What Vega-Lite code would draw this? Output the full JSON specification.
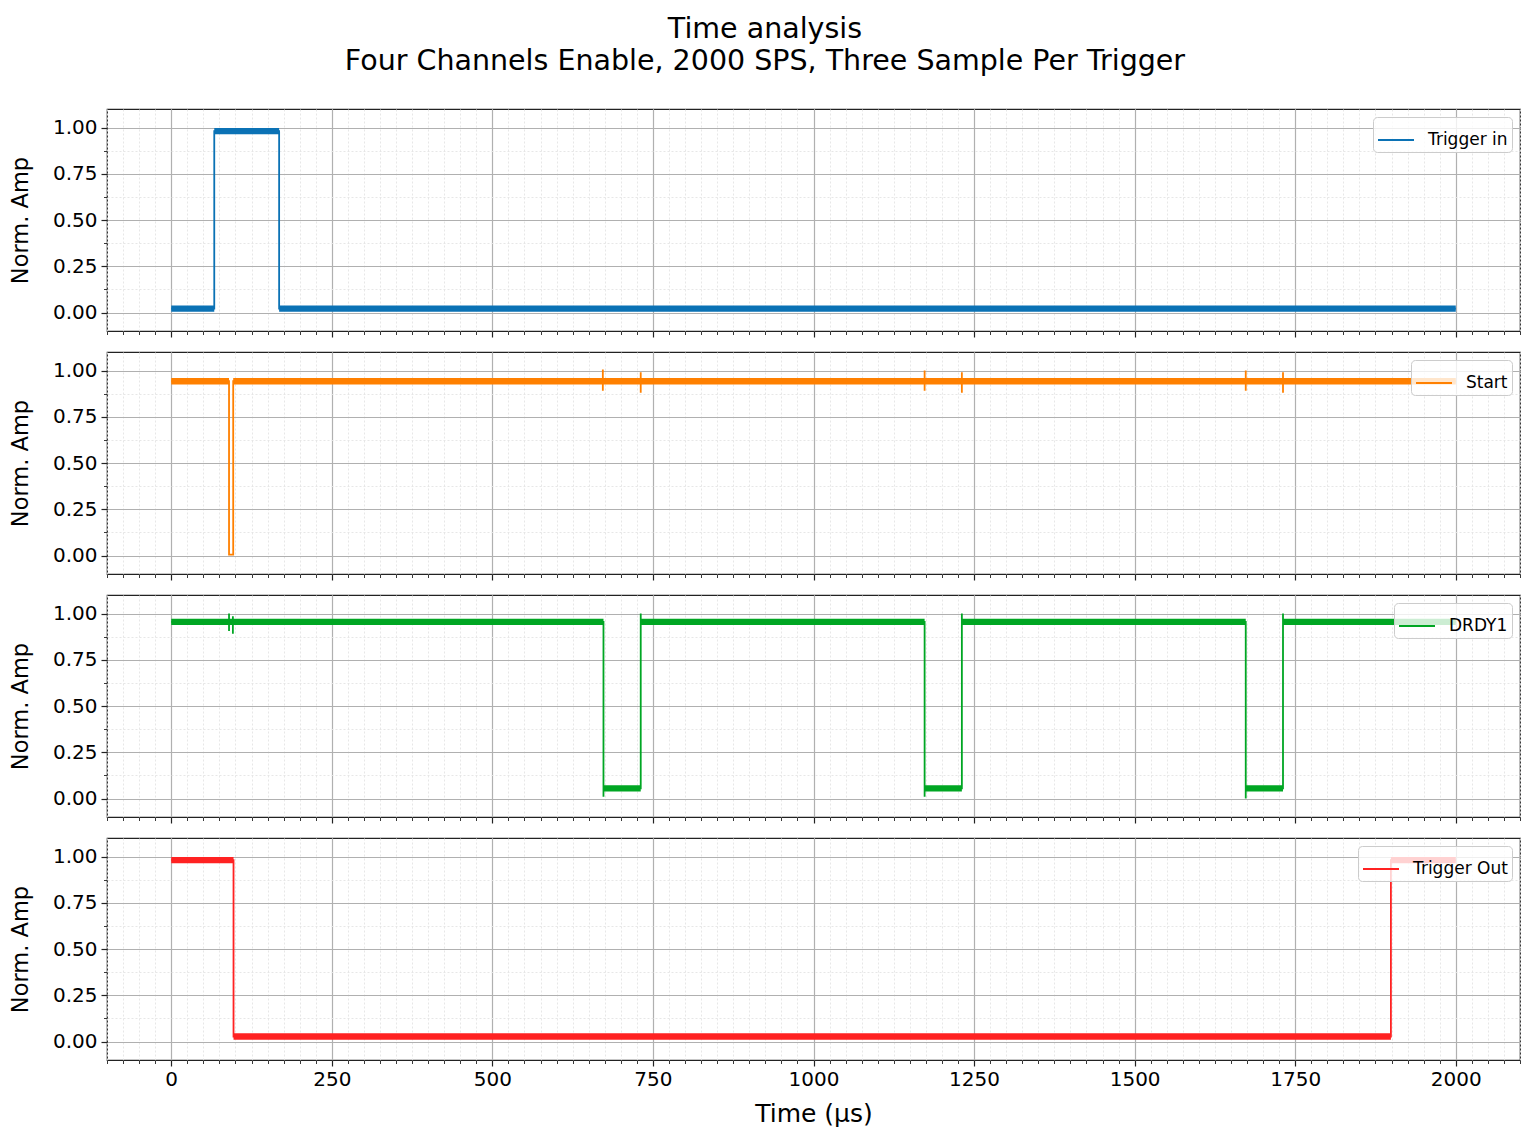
{
  "$schema": "https://vega.github.io/schema/vega-lite/v6.json",
  "background": "white",
  "padding": {"left": 8, "top": 14, "right": 14, "bottom": 8},
  "title": {
    "text": ["Time analysis", "Four Channels Enable, 2000 SPS, Three Sample Per Trigger"],
    "font": "DejaVu Sans",
    "fontSize": 28.5,
    "fontWeight": "normal",
    "color": "black",
    "anchor": "middle",
    "lineHeight": 32,
    "offset": 33
  },
  "datasets": {
    "sig": [
      {"ch": "Trigger in", "i": 0, "t": 0, "v": 0.021},
      {"ch": "Trigger in", "i": 1, "t": 67, "v": 0.021},
      {"ch": "Trigger in", "i": 2, "t": 67, "v": 0.98},
      {"ch": "Trigger in", "i": 3, "t": 168, "v": 0.98},
      {"ch": "Trigger in", "i": 4, "t": 168, "v": 0.021},
      {"ch": "Trigger in", "i": 5, "t": 2000, "v": 0.021},

      {"ch": "Start", "i": 0, "t": 0, "v": 0.942},
      {"ch": "Start", "i": 1, "t": 90, "v": 0.942},
      {"ch": "Start", "i": 2, "t": 90, "v": 0.005},
      {"ch": "Start", "i": 3, "t": 96.5, "v": 0.005},
      {"ch": "Start", "i": 4, "t": 96.5, "v": 0.942},
      {"ch": "Start", "i": 5, "t": 672, "v": 0.942},
      {"ch": "Start", "i": 6, "t": 672, "v": 1.005},
      {"ch": "Start", "i": 7, "t": 672, "v": 0.89},
      {"ch": "Start", "i": 8, "t": 672, "v": 0.942},
      {"ch": "Start", "i": 9, "t": 731, "v": 0.942},
      {"ch": "Start", "i": 10, "t": 731, "v": 0.99},
      {"ch": "Start", "i": 11, "t": 731, "v": 0.88},
      {"ch": "Start", "i": 12, "t": 731, "v": 0.942},
      {"ch": "Start", "i": 13, "t": 1173, "v": 0.942},
      {"ch": "Start", "i": 14, "t": 1173, "v": 1.0},
      {"ch": "Start", "i": 15, "t": 1173, "v": 0.89},
      {"ch": "Start", "i": 16, "t": 1173, "v": 0.942},
      {"ch": "Start", "i": 17, "t": 1231, "v": 0.942},
      {"ch": "Start", "i": 18, "t": 1231, "v": 0.99},
      {"ch": "Start", "i": 19, "t": 1231, "v": 0.88},
      {"ch": "Start", "i": 20, "t": 1231, "v": 0.942},
      {"ch": "Start", "i": 21, "t": 1673, "v": 0.942},
      {"ch": "Start", "i": 22, "t": 1673, "v": 1.0},
      {"ch": "Start", "i": 23, "t": 1673, "v": 0.89},
      {"ch": "Start", "i": 24, "t": 1673, "v": 0.942},
      {"ch": "Start", "i": 25, "t": 1731, "v": 0.942},
      {"ch": "Start", "i": 26, "t": 1731, "v": 0.99},
      {"ch": "Start", "i": 27, "t": 1731, "v": 0.88},
      {"ch": "Start", "i": 28, "t": 1731, "v": 0.942},
      {"ch": "Start", "i": 29, "t": 2000, "v": 0.942},

      {"ch": "DRDY1", "i": 0, "t": 0, "v": 0.955},
      {"ch": "DRDY1", "i": 1, "t": 90, "v": 0.955},
      {"ch": "DRDY1", "i": 2, "t": 90, "v": 1.0},
      {"ch": "DRDY1", "i": 3, "t": 90, "v": 0.905},
      {"ch": "DRDY1", "i": 4, "t": 90, "v": 0.955},
      {"ch": "DRDY1", "i": 5, "t": 96, "v": 0.955},
      {"ch": "DRDY1", "i": 6, "t": 96, "v": 0.985},
      {"ch": "DRDY1", "i": 7, "t": 96, "v": 0.89},
      {"ch": "DRDY1", "i": 8, "t": 96, "v": 0.955},
      {"ch": "DRDY1", "i": 9, "t": 673, "v": 0.955},
      {"ch": "DRDY1", "i": 10, "t": 673, "v": 0.01},
      {"ch": "DRDY1", "i": 11, "t": 673, "v": 0.055},
      {"ch": "DRDY1", "i": 12, "t": 731, "v": 0.055},
      {"ch": "DRDY1", "i": 13, "t": 731, "v": 1.0},
      {"ch": "DRDY1", "i": 14, "t": 731, "v": 0.955},
      {"ch": "DRDY1", "i": 15, "t": 1173, "v": 0.955},
      {"ch": "DRDY1", "i": 16, "t": 1173, "v": 0.01},
      {"ch": "DRDY1", "i": 17, "t": 1173, "v": 0.055},
      {"ch": "DRDY1", "i": 18, "t": 1231, "v": 0.055},
      {"ch": "DRDY1", "i": 19, "t": 1231, "v": 1.0},
      {"ch": "DRDY1", "i": 20, "t": 1231, "v": 0.955},
      {"ch": "DRDY1", "i": 21, "t": 1673, "v": 0.955},
      {"ch": "DRDY1", "i": 22, "t": 1673, "v": 0.0},
      {"ch": "DRDY1", "i": 23, "t": 1673, "v": 0.055},
      {"ch": "DRDY1", "i": 24, "t": 1731, "v": 0.055},
      {"ch": "DRDY1", "i": 25, "t": 1731, "v": 1.0},
      {"ch": "DRDY1", "i": 26, "t": 1731, "v": 0.955},
      {"ch": "DRDY1", "i": 27, "t": 2000, "v": 0.955},

      {"ch": "Trigger Out", "i": 0, "t": 0, "v": 0.98},
      {"ch": "Trigger Out", "i": 1, "t": 97, "v": 0.98},
      {"ch": "Trigger Out", "i": 2, "t": 97, "v": 0.027},
      {"ch": "Trigger Out", "i": 3, "t": 1899, "v": 0.027},
      {"ch": "Trigger Out", "i": 4, "t": 1899, "v": 0.98},
      {"ch": "Trigger Out", "i": 5, "t": 2000, "v": 0.98}
    ],
    "band": [
      {"ch": "Trigger in", "t0": 0, "t1": 67, "lo": 0.004, "hi": 0.038},
      {"ch": "Trigger in", "t0": 67, "t1": 168, "lo": 0.963, "hi": 0.997},
      {"ch": "Trigger in", "t0": 168, "t1": 2000, "lo": 0.004, "hi": 0.038},

      {"ch": "Start", "t0": 0, "t1": 90, "lo": 0.925, "hi": 0.959},
      {"ch": "Start", "t0": 96.5, "t1": 2000, "lo": 0.925, "hi": 0.959},

      {"ch": "DRDY1", "t0": 0, "t1": 673, "lo": 0.938, "hi": 0.972},
      {"ch": "DRDY1", "t0": 673, "t1": 731, "lo": 0.038, "hi": 0.072},
      {"ch": "DRDY1", "t0": 731, "t1": 1173, "lo": 0.938, "hi": 0.972},
      {"ch": "DRDY1", "t0": 1173, "t1": 1231, "lo": 0.038, "hi": 0.072},
      {"ch": "DRDY1", "t0": 1231, "t1": 1673, "lo": 0.938, "hi": 0.972},
      {"ch": "DRDY1", "t0": 1673, "t1": 1731, "lo": 0.038, "hi": 0.072},
      {"ch": "DRDY1", "t0": 1731, "t1": 2000, "lo": 0.938, "hi": 0.972},

      {"ch": "Trigger Out", "t0": 0, "t1": 97, "lo": 0.963, "hi": 0.997},
      {"ch": "Trigger Out", "t0": 97, "t1": 1899, "lo": 0.01, "hi": 0.044},
      {"ch": "Trigger Out", "t0": 1899, "t1": 2000, "lo": 0.963, "hi": 0.997}
    ]
  },
  "spacing": 21,
  "bounds": "flush",
  "resolve": {"scale": {"color": "independent"}},
  "vconcat": [
    {
      "width": 1413,
      "height": 222,
      "resolve": {"axis": {"x": "independent", "y": "independent"}},
      "layer": [
        {
          "data": {"name": "band"},
          "transform": [{"filter": "datum.ch === 'Trigger in'"}],
          "mark": {"type": "rect", "color": "#0b72b5"},
          "encoding": {
            "x": {"field": "t0", "type": "quantitative", "scale": {"domain": [-100, 2100], "nice": false, "zero": false},
              "axis": {"orient": "bottom", "grid": true, "title": null, "labels": false, "domain": false, "tickSize": 3.5, "tickWidth": 0.9, "gridColor": "#e4e4e4", "gridDash": [2, 2], "gridWidth": 0.9,
                "values": [-100,-75,-50,-25,0,25,50,75,100,125,150,175,200,225,250,275,300,325,350,375,400,425,450,475,500,525,550,575,600,625,650,675,700,725,750,775,800,825,850,875,900,925,950,975,1000,1025,1050,1075,1100,1125,1150,1175,1200,1225,1250,1275,1300,1325,1350,1375,1400,1425,1450,1475,1500,1525,1550,1575,1600,1625,1650,1675,1700,1725,1750,1775,1800,1825,1850,1875,1900,1925,1950,1975,2000,2025,2050,2075,2100]}},
            "x2": {"field": "t1"},
            "y": {"field": "lo", "type": "quantitative", "scale": {"domain": [-0.1, 1.1], "nice": false, "zero": false},
              "axis": {"orient": "left", "grid": true, "title": null, "labels": false, "domain": false, "tickSize": 3.5, "tickWidth": 0.9, "gridColor": "#e4e4e4", "gridDash": [2, 2], "gridWidth": 0.9,
                "values": [0, 0.125, 0.25, 0.375, 0.5, 0.625, 0.75, 0.875, 1]}},
            "y2": {"field": "hi"}
          }
        },
        {
          "data": {"name": "sig"},
          "transform": [{"filter": "datum.ch === 'Trigger in'"}],
          "mark": {"type": "line", "strokeWidth": 1.8},
          "encoding": {
            "x": {"field": "t", "type": "quantitative", "scale": {"domain": [-100, 2100], "nice": false, "zero": false},
              "axis": {"orient": "bottom", "grid": true, "title": null, "labels": false, "domain": false, "tickSize": 6, "tickWidth": 1.2, "gridColor": "#b0b0b0", "gridWidth": 1.2,
                "values": [0, 250, 500, 750, 1000, 1250, 1500, 1750, 2000]}},
            "y": {"field": "v", "type": "quantitative", "scale": {"domain": [-0.1, 1.1], "nice": false, "zero": false},
              "axis": {"orient": "left", "grid": true, "title": "Norm. Amp", "format": ".2f", "domain": false, "tickSize": 6, "tickWidth": 1.2, "gridColor": "#b0b0b0", "gridWidth": 1.2,
                "values": [0, 0.25, 0.5, 0.75, 1]}},
            "order": {"field": "i", "type": "quantitative"},
            "color": {"field": "ch", "type": "nominal", "scale": {"range": ["#0b72b5"]}, "legend": {"title": null}}
          }
        }
      ]
    },
    {
      "width": 1413,
      "height": 222,
      "resolve": {"axis": {"x": "independent", "y": "independent"}},
      "layer": [
        {
          "data": {"name": "band"},
          "transform": [{"filter": "datum.ch === 'Start'"}],
          "mark": {"type": "rect", "color": "#ff8000"},
          "encoding": {
            "x": {"field": "t0", "type": "quantitative", "scale": {"domain": [-100, 2100], "nice": false, "zero": false},
              "axis": {"orient": "bottom", "grid": true, "title": null, "labels": false, "domain": false, "tickSize": 3.5, "tickWidth": 0.9, "gridColor": "#e4e4e4", "gridDash": [2, 2], "gridWidth": 0.9,
                "values": [-100,-75,-50,-25,0,25,50,75,100,125,150,175,200,225,250,275,300,325,350,375,400,425,450,475,500,525,550,575,600,625,650,675,700,725,750,775,800,825,850,875,900,925,950,975,1000,1025,1050,1075,1100,1125,1150,1175,1200,1225,1250,1275,1300,1325,1350,1375,1400,1425,1450,1475,1500,1525,1550,1575,1600,1625,1650,1675,1700,1725,1750,1775,1800,1825,1850,1875,1900,1925,1950,1975,2000,2025,2050,2075,2100]}},
            "x2": {"field": "t1"},
            "y": {"field": "lo", "type": "quantitative", "scale": {"domain": [-0.1, 1.1], "nice": false, "zero": false},
              "axis": {"orient": "left", "grid": true, "title": null, "labels": false, "domain": false, "tickSize": 3.5, "tickWidth": 0.9, "gridColor": "#e4e4e4", "gridDash": [2, 2], "gridWidth": 0.9,
                "values": [0, 0.125, 0.25, 0.375, 0.5, 0.625, 0.75, 0.875, 1]}},
            "y2": {"field": "hi"}
          }
        },
        {
          "data": {"name": "sig"},
          "transform": [{"filter": "datum.ch === 'Start'"}],
          "mark": {"type": "line", "strokeWidth": 1.8},
          "encoding": {
            "x": {"field": "t", "type": "quantitative", "scale": {"domain": [-100, 2100], "nice": false, "zero": false},
              "axis": {"orient": "bottom", "grid": true, "title": null, "labels": false, "domain": false, "tickSize": 6, "tickWidth": 1.2, "gridColor": "#b0b0b0", "gridWidth": 1.2,
                "values": [0, 250, 500, 750, 1000, 1250, 1500, 1750, 2000]}},
            "y": {"field": "v", "type": "quantitative", "scale": {"domain": [-0.1, 1.1], "nice": false, "zero": false},
              "axis": {"orient": "left", "grid": true, "title": "Norm. Amp", "format": ".2f", "domain": false, "tickSize": 6, "tickWidth": 1.2, "gridColor": "#b0b0b0", "gridWidth": 1.2,
                "values": [0, 0.25, 0.5, 0.75, 1]}},
            "order": {"field": "i", "type": "quantitative"},
            "color": {"field": "ch", "type": "nominal", "scale": {"range": ["#ff8000"]}, "legend": {"title": null}}
          }
        }
      ]
    },
    {
      "width": 1413,
      "height": 222,
      "resolve": {"axis": {"x": "independent", "y": "independent"}},
      "layer": [
        {
          "data": {"name": "band"},
          "transform": [{"filter": "datum.ch === 'DRDY1'"}],
          "mark": {"type": "rect", "color": "#00a623"},
          "encoding": {
            "x": {"field": "t0", "type": "quantitative", "scale": {"domain": [-100, 2100], "nice": false, "zero": false},
              "axis": {"orient": "bottom", "grid": true, "title": null, "labels": false, "domain": false, "tickSize": 3.5, "tickWidth": 0.9, "gridColor": "#e4e4e4", "gridDash": [2, 2], "gridWidth": 0.9,
                "values": [-100,-75,-50,-25,0,25,50,75,100,125,150,175,200,225,250,275,300,325,350,375,400,425,450,475,500,525,550,575,600,625,650,675,700,725,750,775,800,825,850,875,900,925,950,975,1000,1025,1050,1075,1100,1125,1150,1175,1200,1225,1250,1275,1300,1325,1350,1375,1400,1425,1450,1475,1500,1525,1550,1575,1600,1625,1650,1675,1700,1725,1750,1775,1800,1825,1850,1875,1900,1925,1950,1975,2000,2025,2050,2075,2100]}},
            "x2": {"field": "t1"},
            "y": {"field": "lo", "type": "quantitative", "scale": {"domain": [-0.1, 1.1], "nice": false, "zero": false},
              "axis": {"orient": "left", "grid": true, "title": null, "labels": false, "domain": false, "tickSize": 3.5, "tickWidth": 0.9, "gridColor": "#e4e4e4", "gridDash": [2, 2], "gridWidth": 0.9,
                "values": [0, 0.125, 0.25, 0.375, 0.5, 0.625, 0.75, 0.875, 1]}},
            "y2": {"field": "hi"}
          }
        },
        {
          "data": {"name": "sig"},
          "transform": [{"filter": "datum.ch === 'DRDY1'"}],
          "mark": {"type": "line", "strokeWidth": 1.8},
          "encoding": {
            "x": {"field": "t", "type": "quantitative", "scale": {"domain": [-100, 2100], "nice": false, "zero": false},
              "axis": {"orient": "bottom", "grid": true, "title": null, "labels": false, "domain": false, "tickSize": 6, "tickWidth": 1.2, "gridColor": "#b0b0b0", "gridWidth": 1.2,
                "values": [0, 250, 500, 750, 1000, 1250, 1500, 1750, 2000]}},
            "y": {"field": "v", "type": "quantitative", "scale": {"domain": [-0.1, 1.1], "nice": false, "zero": false},
              "axis": {"orient": "left", "grid": true, "title": "Norm. Amp", "format": ".2f", "domain": false, "tickSize": 6, "tickWidth": 1.2, "gridColor": "#b0b0b0", "gridWidth": 1.2,
                "values": [0, 0.25, 0.5, 0.75, 1]}},
            "order": {"field": "i", "type": "quantitative"},
            "color": {"field": "ch", "type": "nominal", "scale": {"range": ["#00a623"]}, "legend": {"title": null}}
          }
        }
      ]
    },
    {
      "width": 1413,
      "height": 222,
      "resolve": {"axis": {"x": "independent", "y": "independent"}},
      "layer": [
        {
          "data": {"name": "band"},
          "transform": [{"filter": "datum.ch === 'Trigger Out'"}],
          "mark": {"type": "rect", "color": "#ff2222"},
          "encoding": {
            "x": {"field": "t0", "type": "quantitative", "scale": {"domain": [-100, 2100], "nice": false, "zero": false},
              "axis": {"orient": "bottom", "grid": true, "title": null, "labels": false, "domain": false, "tickSize": 3.5, "tickWidth": 0.9, "gridColor": "#e4e4e4", "gridDash": [2, 2], "gridWidth": 0.9,
                "values": [-100,-75,-50,-25,0,25,50,75,100,125,150,175,200,225,250,275,300,325,350,375,400,425,450,475,500,525,550,575,600,625,650,675,700,725,750,775,800,825,850,875,900,925,950,975,1000,1025,1050,1075,1100,1125,1150,1175,1200,1225,1250,1275,1300,1325,1350,1375,1400,1425,1450,1475,1500,1525,1550,1575,1600,1625,1650,1675,1700,1725,1750,1775,1800,1825,1850,1875,1900,1925,1950,1975,2000,2025,2050,2075,2100]}},
            "x2": {"field": "t1"},
            "y": {"field": "lo", "type": "quantitative", "scale": {"domain": [-0.1, 1.1], "nice": false, "zero": false},
              "axis": {"orient": "left", "grid": true, "title": null, "labels": false, "domain": false, "tickSize": 3.5, "tickWidth": 0.9, "gridColor": "#e4e4e4", "gridDash": [2, 2], "gridWidth": 0.9,
                "values": [0, 0.125, 0.25, 0.375, 0.5, 0.625, 0.75, 0.875, 1]}},
            "y2": {"field": "hi"}
          }
        },
        {
          "data": {"name": "sig"},
          "transform": [{"filter": "datum.ch === 'Trigger Out'"}],
          "mark": {"type": "line", "strokeWidth": 1.8},
          "encoding": {
            "x": {"field": "t", "type": "quantitative", "scale": {"domain": [-100, 2100], "nice": false, "zero": false},
              "axis": {"orient": "bottom", "grid": true, "title": "Time (μs)", "titleFontSize": 25, "titlePadding": 12, "labels": true, "format": "d", "labelFontSize": 20, "labelPadding": 3, "domain": false, "tickSize": 6, "tickWidth": 1.2, "gridColor": "#b0b0b0", "gridWidth": 1.2,
                "values": [0, 250, 500, 750, 1000, 1250, 1500, 1750, 2000]}},
            "y": {"field": "v", "type": "quantitative", "scale": {"domain": [-0.1, 1.1], "nice": false, "zero": false},
              "axis": {"orient": "left", "grid": true, "title": "Norm. Amp", "format": ".2f", "domain": false, "tickSize": 6, "tickWidth": 1.2, "gridColor": "#b0b0b0", "gridWidth": 1.2,
                "values": [0, 0.25, 0.5, 0.75, 1]}},
            "order": {"field": "i", "type": "quantitative"},
            "color": {"field": "ch", "type": "nominal", "scale": {"range": ["#ff2222"]}, "legend": {"title": null}}
          }
        }
      ]
    }
  ],
  "config": {
    "font": "DejaVu Sans",
    "view": {"stroke": "#222222", "strokeWidth": 1.2},
    "axis": {
      "labelFont": "DejaVu Sans",
      "titleFont": "DejaVu Sans",
      "labelFontSize": 20,
      "labelColor": "black",
      "labelPadding": 4,
      "titleFontSize": 22.5,
      "titleFontWeight": "normal",
      "titleColor": "black",
      "titlePadding": 20,
      "tickColor": "#222222"
    },
    "legend": {
      "orient": "top-right",
      "offset": 8,
      "padding": 4,
      "fillColor": "rgba(255,255,255,0.8)",
      "strokeColor": "#cccccc",
      "cornerRadius": 4,
      "symbolType": "stroke",
      "symbolStrokeWidth": 2,
      "symbolSize": 1296,
      "labelFont": "DejaVu Sans",
      "labelFontSize": 17,
      "labelColor": "black",
      "labelOffset": 13
    }
  }
}
